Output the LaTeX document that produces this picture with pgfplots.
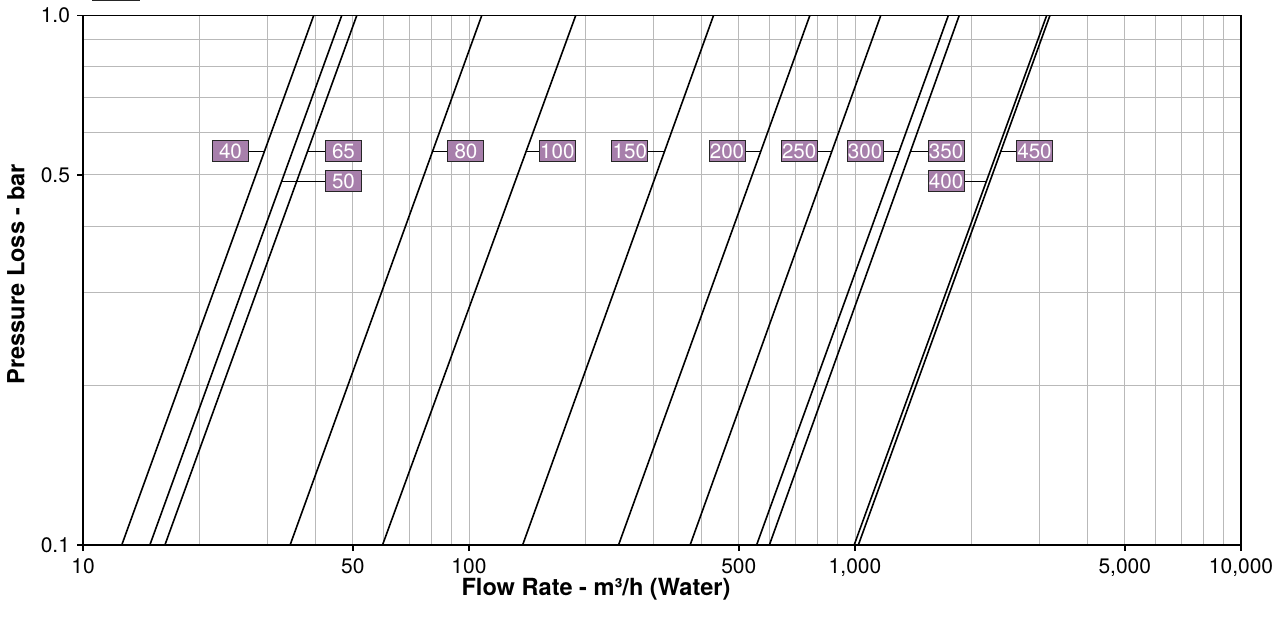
\documentclass[border=0pt]{standalone}
\usepackage{pgfplots}
\pgfplotsset{compat=1.18}
\usetikzlibrary{calc}
\usepackage{fontspec}
\setmainfont{TeX Gyre Heros}
\definecolor{boxpurple}{RGB}{167,127,171}
\definecolor{gridgray}{RGB}{185,185,185}
\tikzset{
  lbl/.style={fill=boxpurple, draw=black!85, line width=0.5pt, text=white, inner sep=0pt,
    minimum width=18pt, minimum height=10.5pt, font=\fontsize{10.3}{11}\selectfont},
  leader/.style={black, line width=0.6pt},
}
\begin{document}
\begin{tikzpicture}
\begin{axis}[
  width=579pt, height=264.75pt, scale only axis,
  xmode=log, ymode=log,
  xmin=10, xmax=10000, ymin=0.1, ymax=1,
  xtick={10,50,100,500,1000,5000,10000},
  xticklabels={10,50,100,500,{1,000},{5,000},{10,000}},
  ytick={0.1,0.5,1},
  yticklabels={0.1,0.5,1.0},
  minor xtick={20,30,40,60,70,80,90,200,300,400,600,700,800,900,2000,3000,4000,6000,7000,8000,9000},
  minor ytick={0.2,0.3,0.4,0.6,0.7,0.8,0.9},
  grid=both,
  major grid style={gridgray, line width=0.5pt},
  minor grid style={gridgray, line width=0.5pt},
  tick align=outside, major tick length=3pt, minor tick length=0pt,
  xtick pos=bottom, ytick pos=left,
  tick style={black, line width=0.7pt},
  axis line style={line width=0.8pt},
  tick label style={font=\fontsize{10.5}{12}\selectfont},
  xticklabel style={yshift=-0.5pt},
  label style={font=\bfseries\fontsize{11.8}{13}\selectfont},
  xlabel={Flow Rate - m³/h (Water)},
  ylabel={Pressure Loss - bar},
  xlabel style={at={(axis description cs:0.443,0)}, anchor=base, yshift=-25pt},
  ylabel style={at={(axis description cs:-0.0579,0.511)}, anchor=center},
]
% size 40
\addplot[black, line width=0.8pt] coordinates {(12.6,0.1) (39.6,1)};
% size 50
\addplot[black, line width=0.8pt] coordinates {(14.9,0.1) (46.8,1)};
% size 65
\addplot[black, line width=0.8pt] coordinates {(16.3,0.1) (51.2,1)};
% size 80
\addplot[black, line width=0.8pt] coordinates {(34.4,0.1) (107.9,1)};
% size 100
\addplot[black, line width=0.8pt] coordinates {(59.7,0.1) (189,1)};
% size 150
\addplot[black, line width=0.8pt] coordinates {(137.7,0.1) (430,1)};
% size 200
\addplot[black, line width=0.8pt] coordinates {(244,0.1) (764,1)};
% size 250
\addplot[black, line width=0.8pt] coordinates {(374,0.1) (1166,1)};
% size 300
\addplot[black, line width=0.8pt] coordinates {(556,0.1) (1745,1)};
% size 350
\addplot[black, line width=0.8pt] coordinates {(600,0.1) (1862,1)};
% size 400
\addplot[black, line width=0.8pt] coordinates {(995,0.1) (3137,1)};
% size 450
\addplot[black, line width=0.8pt] coordinates {(1020,0.1) (3199,1)};

\draw[leader] (axis cs:24.1,0.554) -- (axis cs:29.5,0.554);
\node[lbl] at (axis cs:24.1,0.554) {40};
\draw[leader] (axis cs:47.3,0.554) -- (axis cs:38.2,0.554);
\node[lbl] at (axis cs:47.3,0.554) {65};
\draw[leader] (axis cs:47.3,0.486) -- (axis cs:32.7,0.486);
\node[lbl] at (axis cs:47.3,0.486) {50};
\draw[leader] (axis cs:98.2,0.554) -- (axis cs:80.5,0.554);
\node[lbl] at (axis cs:98.2,0.554) {80};
\draw[leader] (axis cs:169.4,0.554) -- (axis cs:140.6,0.554);
\node[lbl] at (axis cs:169.4,0.554) {100};
\draw[leader] (axis cs:261,0.554) -- (axis cs:321,0.554);
\node[lbl] at (axis cs:261,0.554) {150};
\draw[leader] (axis cs:466,0.554) -- (axis cs:569.8,0.554);
\node[lbl] at (axis cs:466,0.554) {200};
\draw[leader] (axis cs:717,0.554) -- (axis cs:871,0.554);
\node[lbl] at (axis cs:717,0.554) {250};
\draw[leader] (axis cs:1062,0.554) -- (axis cs:1301,0.554);
\node[lbl] at (axis cs:1062,0.554) {300};
\draw[leader] (axis cs:1722,0.554) -- (axis cs:1393,0.554);
\node[lbl] at (axis cs:1722,0.554) {350};
\draw[leader] (axis cs:1722,0.486) -- (axis cs:2189,0.486);
\node[lbl] at (axis cs:1722,0.486) {400};
\draw[leader] (axis cs:2918,0.554) -- (axis cs:2386,0.554);
\node[lbl] at (axis cs:2918,0.554) {450};

\coordinate (SW) at (rel axis cs:0,0);
\end{axis}
\draw[black!85, line width=1pt] ($(SW)+(4.5pt,272.3pt)$) -- ++(24pt,0);
\pgfresetboundingbox
\useasboundingbox (SW) ++(-41.5pt,-36.5pt) rectangle ++(644pt,309pt);
\end{tikzpicture}
\end{document}
